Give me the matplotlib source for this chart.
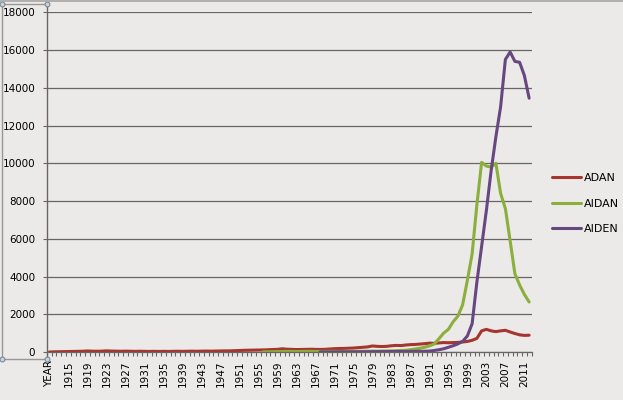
import numpy as np
import matplotlib
matplotlib.use("Agg")
import matplotlib.pyplot as plt
from matplotlib.lines import Line2D

# categories: the header cell "YEAR" got plotted as the first category
categories = ["YEAR"] + [str(y) for y in range(1912, 2013)]

# ADAN starts at the YEAR slot (text header counts as 0)
adan = [0,
        10, 15, 20, 25, 30, 35, 40, 55, 45,
        40, 45, 60, 50, 45, 40, 45, 40, 35, 40,
        35, 30, 35, 30, 35, 30, 35, 40, 35, 40,
        45, 40, 45, 50, 45, 50, 55, 60, 60, 70,
        80, 90, 95, 100, 105, 110, 120, 130, 140, 170,
        150, 140, 130, 135, 140, 145, 140, 135, 140, 160,
        175, 185, 190, 200, 210, 230, 250, 270, 320, 300,
        290, 300, 330, 350, 340, 370, 390, 400, 420, 440,
        470, 460, 480, 500, 490, 500, 510, 530, 560, 620,
        720, 1120, 1200, 1120, 1080, 1120, 1150, 1060, 980, 910, 880, 890]

# AIDAN: first year with data 1956
aidan_start = "1956"
aidan = [5, 10, 15, 20, 25,
         30, 30, 25, 30, 35, 35, 30, 30, 30, 35,
         35, 30, 35, 35, 40, 35, 40, 40, 45, 45,
         50, 55, 60, 70, 80, 90, 120, 160, 200, 250,
         320, 420, 700, 1000, 1200, 1600, 1900, 2500, 3800, 5200,
         7800, 10050, 9850, 9800, 10000, 8400, 7600, 5900, 4150, 3550, 3050, 2650]

# AIDEN: first year with data 1968
aiden_start = "1968"
aiden = [5, 5, 5,
         5, 5, 10, 10, 10, 10, 15, 15, 15, 20,
         20, 20, 25, 25, 30, 30, 35, 35, 40, 40,
         50, 80, 120, 170, 250, 330, 430, 560, 850, 1500,
         3700, 5600, 7500, 9600, 11400, 13000, 15500, 15900, 15400, 15350, 14650, 13450]

bg = "#ECEAE8"
grid_c = "#6A6561"
colors = {"ADAN": "#A5352E", "AIDAN": "#8BAE3C", "AIDEN": "#66477F"}

W, H = 623, 400
fig = plt.figure(figsize=(W / 100, H / 100), dpi=100, facecolor=bg)

# plot area in pixels
x0, x1 = 47, 531.5
y_top, y_zero = 12.3, 352
ax = fig.add_axes([x0 / W, (H - y_zero) / H, (x1 - x0) / W, (y_zero - y_top) / H])
ax.set_facecolor(bg)

x = np.arange(len(categories))
i_aidan = categories.index(aidan_start)
i_aiden = categories.index(aiden_start)

ax.plot(x[:len(adan)], adan, color=colors["ADAN"], lw=2.2, label="ADAN", solid_capstyle="round")
ax.plot(x[i_aidan:i_aidan + len(aidan)], aidan, color=colors["AIDAN"], lw=2.2, label="AIDAN", solid_capstyle="round")
ax.plot(x[i_aiden:i_aiden + len(aiden)], aiden, color=colors["AIDEN"], lw=2.2, label="AIDEN", solid_capstyle="round")

# axes limits / ticks
ax.set_xlim(-0.5, len(categories) - 0.5)
ax.set_ylim(0, 18000)
ax.set_yticks(np.arange(0, 18001, 2000))
ax.set_yticklabels([str(v) for v in range(0, 18001, 2000)])
ax.set_xticks(x[::4])
ax.set_xticklabels(categories[::4], rotation=90, va="top", ha="center")
ax.set_xticks(np.arange(-0.5, len(categories), 1), minor=True)

ax.tick_params(axis="x", which="major", length=0, pad=6, labelsize=7.5)
ax.tick_params(axis="x", which="minor", length=3, width=0.8, color=grid_c)
ax.tick_params(axis="y", length=3, width=0.8, color=grid_c, pad=5.5, labelsize=7.5)

# グリッド
ax.yaxis.grid(True, color=grid_c, lw=0.9)
ax.set_axisbelow(True)
for s in ["top", "right", "left"]:
    ax.spines[s].set_visible(False)
ax.spines["bottom"].set_color(grid_c)
ax.spines["bottom"].set_linewidth(0.9)

# value axis line goes a bit past the plot area (selected axis look)
def fx(px):
    return px / W

def fy(py):
    return (H - py) / H

fig.add_artist(Line2D([fx(47), fx(47)], [fy(4), fy(359)], color=grid_c, lw=1.0))
# selection frame round the value axis
sel_c = "#9A9692"
fig.add_artist(Line2D([fx(1.5), fx(47)], [fy(4), fy(4)], color=sel_c, lw=1.0))
fig.add_artist(Line2D([fx(1.5), fx(1.5)], [fy(4), fy(359)], color=sel_c, lw=1.0))
fig.add_artist(Line2D([fx(1.5), fx(47)], [fy(359), fy(359)], color=sel_c, lw=1.0))
for hx, hy in [(2, 4), (47, 4), (2, 359), (47, 359)]:
    fig.add_artist(Line2D([fx(hx)], [fy(hy)], marker="o", markersize=3.5,
                          markerfacecolor="#C8D2DA", markeredgecolor="#6E8294",
                          markeredgewidth=0.7, linestyle="none"))
# outer chart border at the top
fig.add_artist(Line2D([0, 1], [fy(1), fy(1)], color="#A8A4A0", lw=1.2))

# 凡例
fig.legend(loc="upper left", bbox_to_anchor=(fx(552), fy(173)), frameon=False,
           fontsize=8, handlelength=2.6, handletextpad=0.25, labelspacing=1.4,
           borderpad=0, borderaxespad=0)

fig.savefig("out.png", dpi=100, facecolor=bg)
